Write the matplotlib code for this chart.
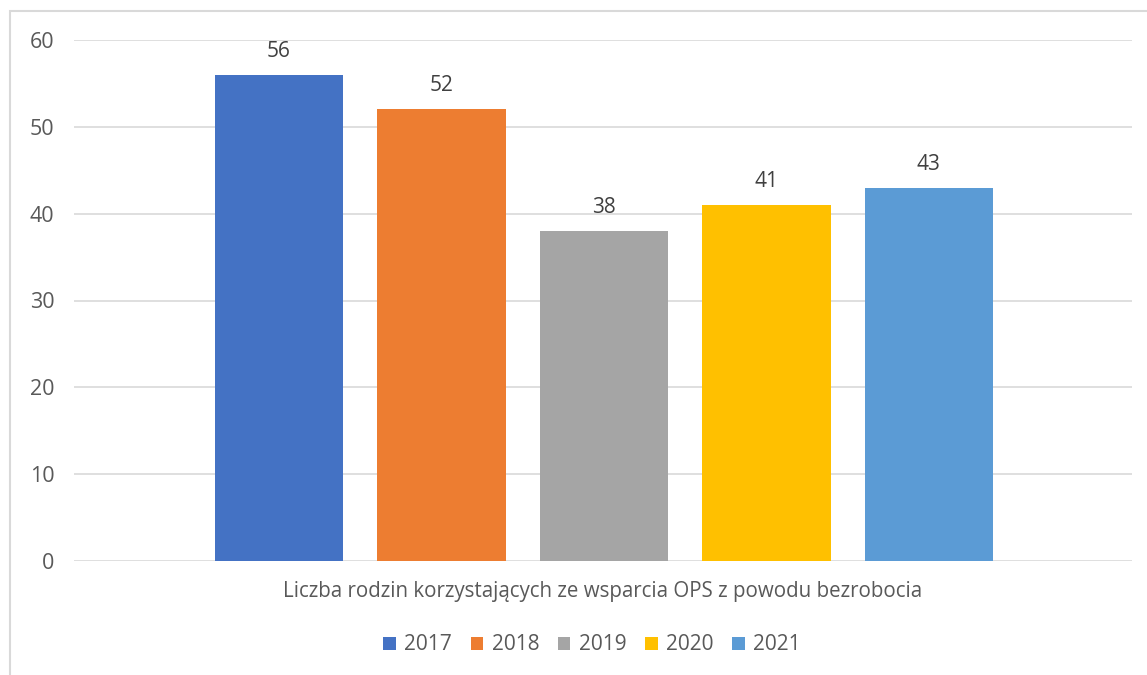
import matplotlib.pyplot as plt
from matplotlib.patches import Rectangle

# data
years = ["2017", "2018", "2019", "2020", "2021"]
values = [56, 52, 38, 41, 43]
colors = ["#4472C4", "#ED7D31", "#A5A5A5", "#FFC000", "#5B9BD5"]
category = "Liczba rodzin korzystających ze wsparcia OPS z powodu bezrobocia"
yticks = [0, 10, 20, 30, 40, 50, 60]

plt.rcParams['font.family'] = ['Open Sans', 'DejaVu Sans']
txt = "#595959"

fig = plt.figure(figsize=(11.47, 6.75), dpi=100)
ax = fig.add_axes([74 / 1147, 1 - 561 / 675, (1132 - 74) / 1147, (561 - 40) / 675])

# chart border (light grey, cut off at right and bottom)
fig.patches.append(Rectangle((10 / 1147, -0.05), 1.1, 1 - 11 / 675 + 0.05,
                             transform=fig.transFigure, fill=False,
                             edgecolor="#d9d9d9", linewidth=1.5))

xs = list(range(len(years)))
bars = ax.bar(xs, values, width=0.79, color=colors, label=years, zorder=3)
for b, v in zip(bars, values):
    ax.text(b.get_x() + b.get_width() / 2, v + 1.5, str(v), ha="center",
            va="bottom", fontsize=15, color="#404040")

ax.set_xlim(-1.262, 5.25)
ax.set_ylim(0, 60)
ax.set_yticks(yticks)
ax.set_yticklabels([str(t) for t in yticks], fontsize=15.5, color=txt)
ax.tick_params(axis="y", length=0, pad=14)
ax.set_xticks([])
ax.grid(axis="y", color="#d9d9d9", linewidth=1.2, zorder=0)
for s in ax.spines.values():
    s.set_visible(False)

fig.text(603 / 1147, 1 - 592 / 675, category, ha="center", va="center",
         fontsize=14.8, color=txt)

leg = fig.legend(handles=bars, labels=years, loc="center",
                 bbox_to_anchor=(592 / 1147, 1 - 645 / 675), ncol=5,
                 frameon=False, fontsize=15, handlelength=0.6, handleheight=0.6,
                 handletextpad=0.4, columnspacing=0.9)
for t in leg.get_texts():
    t.set_color(txt)

fig.savefig("out.png", dpi=100)
